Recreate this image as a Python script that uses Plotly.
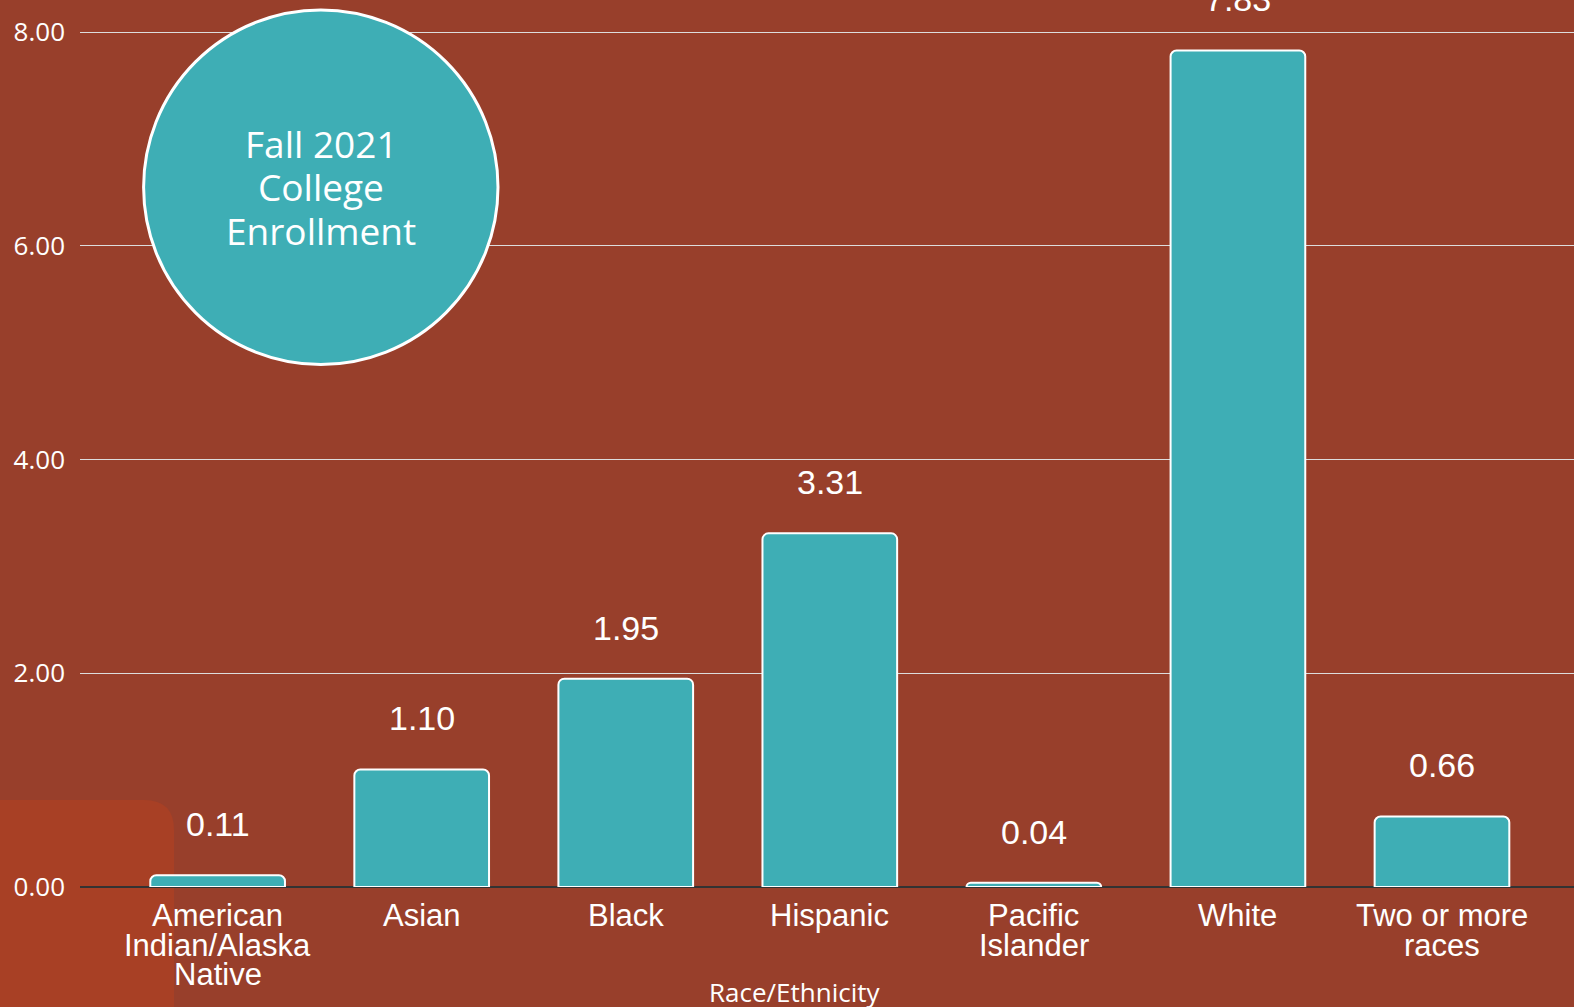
import plotly.graph_objects as go

categories = ["American<br>Indian/Alaska<br>Native", "Asian", "Black", "Hispanic",
              "Pacific<br>Islander", "White", "Two or more<br>races"]
enrollment = [0.11, 1.10, 1.95, 3.31, 0.04, 7.83, 0.66]
y_ticks = [0, 2, 4, 6, 8]
y_tick_labels = ["0.00", "2.00", "4.00", "6.00", "8.00"]
title_lines = ["Fall 2021", "College", "Enrollment"]
x_title = "Race/Ethnicity"

BG = "#983F2B"
TEAL = "#3EAEB5"
RECT = "#A84025"
PW, PH, ML = 1494, 887, 80  # plot width/height, left margin (px)

fig = go.Figure()
fig.add_trace(go.Bar(
    x=categories, y=enrollment,
    marker=dict(color=TEAL, line=dict(color="white", width=2), cornerradius=6),
    hoverinfo="x+y",
))

annotations = []
# value labels above bars
for c, v in zip(categories, enrollment):
    annotations.append(dict(
        x=c, y=v, xref="x", yref="y", text=f"{v:.2f}", showarrow=False,
        yanchor="middle", yshift=51,
        font=dict(family="Liberation Sans, Arial", size=34, color="white"),
    ))
# category labels (tight line spacing), one annotation per line
for c in categories:
    for i, line in enumerate(c.split("<br>")):
        annotations.append(dict(
            x=c, y=0, xref="x", yref="paper", text=line, showarrow=False,
            xanchor="center", yanchor="middle", yshift=-(28.5 + 29.5 * i),
            font=dict(family="Liberation Sans, Arial", size=31, color="white"),
        ))
# title inside circle
for i, line in enumerate(title_lines):
    annotations.append(dict(
        x=(321 - ML) / PW, y=1 - (143 + 44 * i) / PH, xref="paper", yref="paper",
        text=line, showarrow=False, xanchor="center", yanchor="middle",
        font=dict(family="Open Sans", size=37, color="white"),
    ))
annotations.append(dict(
    x=(795 - ML) / PW, y=1 - 992 / PH, xref="paper", yref="paper",
    text=x_title, showarrow=False, xanchor="center", yanchor="middle",
    font=dict(family="Open Sans", size=26, color="white"),
))

# rounded rectangle in bottom-left
x0, x1 = -ML / PW, (174 - ML) / PW
yt, yb = 1 - 800 / PH, 1 - 1010 / PH
rx, ry = 30 / PW, 30 / PH
rect_path = (f"M {x0},{yb} L {x0},{yt} L {x1 - rx},{yt} Q {x1},{yt} {x1},{yt - ry} "
             f"L {x1},{yb} Z")

shapes = [
    dict(type="path", xref="paper", yref="paper", path=rect_path,
         fillcolor=RECT, line=dict(width=0), layer="below"),
    dict(type="circle", xref="paper", yref="paper",
         x0=(143.6 - ML) / PW, x1=(498 - ML) / PW,
         y0=1 - 364.5 / PH, y1=1 - 10 / PH,
         fillcolor=TEAL, line=dict(color="white", width=3), layer="above"),
]

fig.update_layout(
    width=1574, height=1007,
    margin=dict(l=ML, r=0, t=0, b=120),
    paper_bgcolor=BG, plot_bgcolor="rgba(0,0,0,0)",
    showlegend=False, bargap=0.34,
    annotations=annotations, shapes=shapes,
    xaxis=dict(
        range=[-0.6745, 6.647], showgrid=False, zeroline=False, showline=False,
        showticklabels=False, automargin=False, fixedrange=True,
    ),
    yaxis=dict(
        range=[0, 8.302], tickvals=y_ticks, ticktext=y_tick_labels,
        showgrid=True, gridcolor="#DDDDDD", gridwidth=1,
        zeroline=True, zerolinecolor="#333333", zerolinewidth=2,
        tickfont=dict(family="Open Sans", size=26, color="white"),
        ticklabelstandoff=14, automargin=False, fixedrange=True,
    ),
)

fig.write_html(
    "out.html",
    config={"displayModeBar": False},
    post_script="document.body.style.margin='0';document.body.style.overflow='hidden';",
)
